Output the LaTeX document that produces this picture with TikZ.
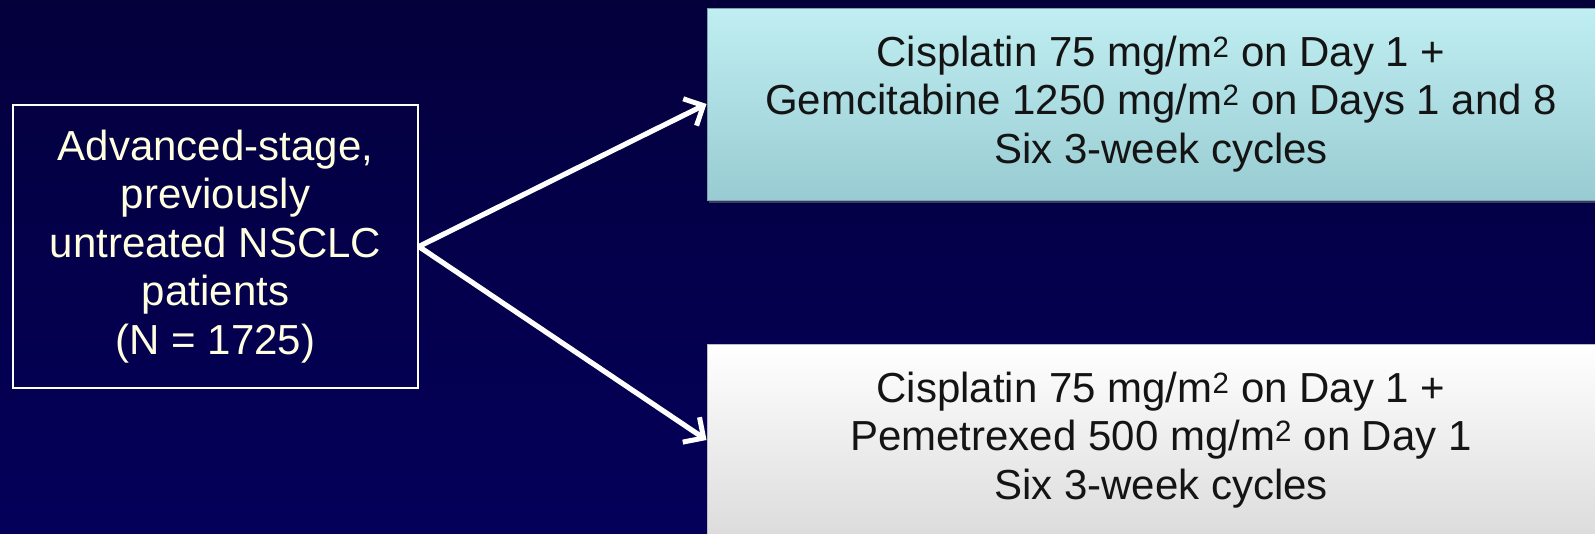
\documentclass[tikz,border=0pt]{standalone}
\usepackage{fontspec}
\setmainfont{Liberation Sans}
\usetikzlibrary{arrows.meta,shadows}
\definecolor{bgtop}{RGB}{4,0,60}
\definecolor{bgbot}{RGB}{4,0,90}
\definecolor{cream}{RGB}{255,255,224}
\definecolor{cyantop}{RGB}{192,238,242}
\definecolor{cyanbot}{RGB}{152,204,210}
\definecolor{cyanedge}{RGB}{120,165,170}
\definecolor{greybot}{RGB}{220,220,220}
\definecolor{greyedge}{RGB}{190,190,190}
\definecolor{darktext}{RGB}{20,20,20}
\tikzset{
  bigtext/.style={font=\fontsize{42}{48.5}\selectfont, align=center, inner sep=0pt},
  patbox/.style={bigtext, draw=white, line width=1.6pt, text=cream},
  gembox/.style={bigtext, text=darktext, top color=cyantop, bottom color=cyanbot,
     draw=cyanedge, line width=1pt,
     drop shadow={shadow xshift=2pt, shadow yshift=-3pt, opacity=0.45}},
  pembox/.style={bigtext, text=darktext, top color=white, bottom color=greybot,
     draw=greyedge, line width=1pt,
     drop shadow={shadow xshift=2pt, shadow yshift=-3pt, opacity=0.45}},
  arrowline/.style={draw=white, line width=5.2pt,
     -{Straight Barb[length=15pt, width=30pt, line width=5pt]}}
}
\begin{document}
\begin{tikzpicture}[x=1pt, y=-1pt]
\shade[top color=bgtop, bottom color=bgbot] (0,0) rectangle (1595,533);
\useasboundingbox (0,0) rectangle (1595,533);
\node[patbox, minimum width=405pt, minimum height=283pt] (pat) at (215.5,246.5)
  {Advanced-stage,\\previously\\untreated NSCLC\\patients\\(N = 1725)};
\node[gembox, minimum width=908pt, minimum height=192pt] (gem) at (1161,104)
  {Cisplatin 75 mg/m\textsuperscript{2} on Day 1 +\\Gemcitabine 1250 mg/m\textsuperscript{2} on Days 1 and 8\\Six 3-week cycles};
\node[pembox, minimum width=908pt, minimum height=192pt] (pem) at (1161,440)
  {Cisplatin 75 mg/m\textsuperscript{2} on Day 1 +\\Pemetrexed 500 mg/m\textsuperscript{2} on Day 1\\Six 3-week cycles};
\draw[arrowline] (pat.east) -- (gem.west);
\draw[arrowline] (pat.east) -- (pem.west);
\end{tikzpicture}
\end{document}
